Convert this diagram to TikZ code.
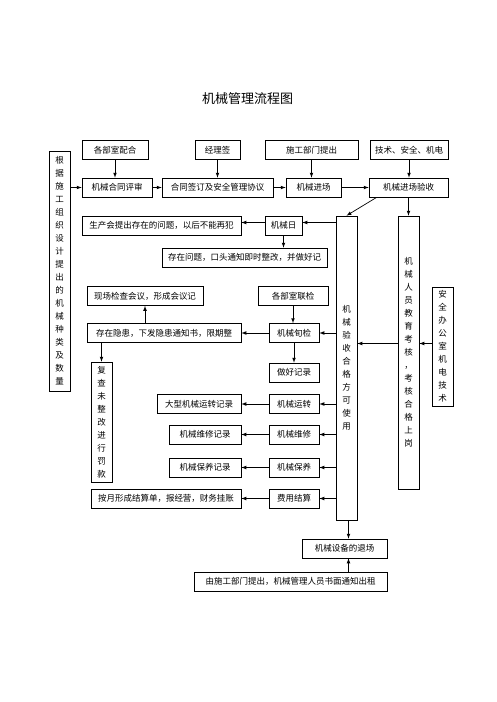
\documentclass[tikz,border=0pt]{standalone}
\usepackage{fontspec}
\setmainfont{Noto Sans CJK SC}

\begin{document}
\begin{tikzpicture}[x=1pt,y=-1pt,>=latex,
    box/.style={draw, line width=0.7pt, inner sep=0pt, minimum height=19pt, font=\fontsize{8.5}{10}\selectfont},
    vbox/.style={box, minimum width=21pt, text width=10pt, align=center, font=\fontsize{8.5}{13}\selectfont},
    flow/.style={->, line width=0.7pt}]
    \useasboundingbox (0,0) rectangle (496,702);
    \node (title) at (247.5,98.5) {\fontsize{13}{15}\selectfont 机械管理流程图};

    \node[box, minimum width=66pt] (peihe) at (115,150) {各部室配合};
    \node[box, minimum width=45pt] (jingli) at (217.5,150) {经理签};
    \node[box, minimum width=93pt] (tichu) at (311.5,150) {施工部门提出};
    \node[box, minimum width=78pt] (jishu) at (409,150) {技术、安全、机电};

    \node[vbox, minimum height=240pt] (genju) at (59.5,271) {根\\据\\施\\工\\组\\织\\设\\计\\提\\出\\的\\机\\械\\种\\类\\及\\数\\量};
    \node[box, minimum width=70pt] (pingshen) at (117,187.5) {机械合同评审};
    \node[box, minimum width=111pt] (xieyi) at (217.5,187.5) {合同签订及安全管理协议};
    \node[box, minimum width=55pt] (jinchang) at (313.5,187.5) {机械进场};
    \node[box, minimum width=79pt] (yanshou) at (408.5,187.5) {机械进场验收};

    \node[vbox, minimum height=304pt] (shiyong) at (346.5,368) {机\\械\\验\\收\\合\\格\\方\\可\\使\\用};
    \node[vbox, minimum height=273pt] (jiaoyu) at (408.5,352.5) {机\\械\\人\\员\\教\\育\\考\\核\\，\\考\\核\\合\\格\\上\\岗};
    \node[vbox, minimum height=119pt] (anquan) at (442.5,346.5) {安\\全\\办\\公\\室\\机\\电\\技\\术};

    \node[box, minimum width=37pt] (jixieri) at (283.5,225.5) {机械日};
    \node[box, minimum width=159pt] (shengchan) at (161.5,225.5) {生产会提出存在的问题，以后不能再犯};
    \node[box, minimum width=165pt] (wenti) at (244.5,257.5) {存在问题，口头通知即时整改，并做好记};

    \node[box, minimum width=116pt] (xianchang) at (145,296) {现场检查会议，形成会议记};
    \node[box, minimum width=70pt] (lianjian) at (293,296) {各部室联检};
    \node[box, minimum width=154pt] (yinhuan) at (164,333) {存在隐患，下发隐患通知书，限期整};
    \node[box, minimum width=50pt] (xunjian) at (294,333) {机械旬检};
    \node[vbox, minimum height=120pt] (fucha) at (101.5,422) {复\\查\\未\\整\\改\\进\\行\\罚\\款};
    \node[box, minimum width=50pt] (jilu) at (294,372.5) {做好记录};

    \node[box, minimum width=50pt] (yunzhuan) at (294,404) {机械运转};
    \node[box, minimum width=84pt] (yunzhuanjl) at (199,404) {大型机械运转记录};
    \node[box, minimum width=50pt] (weixiu) at (294,434.5) {机械维修};
    \node[box, minimum width=72pt] (weixiujl) at (205,434.5) {机械维修记录};
    \node[box, minimum width=50pt] (baoyang) at (294,467.5) {机械保养};
    \node[box, minimum width=72pt] (baoyangjl) at (205,467.5) {机械保养记录};
    \node[box, minimum width=50pt] (jiesuan) at (294,498.5) {费用结算};
    \node[box, minimum width=150pt] (guazhang) at (166,498.5) {按月形成结算单，报经营，财务挂账};

    \node[box, minimum width=85pt] (tuichang) at (344.5,548.5) {机械设备的退场};
    \node[box, minimum width=193pt] (chuzu) at (290.5,581.5) {由施工部门提出，机械管理人员书面通知出租};

    \draw[flow] (peihe) -- (peihe |- pingshen.north);
    \draw[flow] (jingli) -- (jingli |- xieyi.north);
    \draw[flow] (tichu) -- (tichu |- jinchang.north);
    \draw[flow] (jishu) -- (jishu |- yanshou.north);
    \draw[flow] (genju.east |- pingshen) -- (pingshen);
    \draw[flow] (pingshen) -- (xieyi);
    \draw[flow] (xieyi) -- (jinchang);
    \draw[flow] (jinchang) -- (yanshou);
    \draw[flow] ([xshift=8pt]yanshou.south west) -- (shiyong.north);
    \draw[flow] (yanshou) -- (jiaoyu);
    \draw[flow] ([yshift=3pt]anquan.west) -- ([yshift=3pt]anquan.west -| jiaoyu.east);
    \draw[flow] ([yshift=3pt]anquan.west -| jiaoyu.west) -- ([yshift=3pt]anquan.west -| shiyong.east);

    \draw[flow] ([yshift=3pt]shiyong.west |- jixieri) -- ([yshift=3pt]jixieri.east);
    \draw[flow] ([yshift=3pt]jixieri.west) -- ([yshift=3pt]jixieri.west -| shengchan.east);
    \draw[flow] (jixieri) -- (jixieri |- wenti.north);
    \draw[flow] (lianjian) -- (lianjian |- xunjian.north);
    \draw[flow] (shiyong.west |- xunjian) -- (xunjian);
    \draw[flow] (xunjian) -- (yinhuan);
    \draw[flow] (yinhuan.north -| xianchang) -- (xianchang);
    \draw[flow] (fucha |- yinhuan.south) -- (fucha);
    \draw[flow] (xunjian) -- (jilu);
    \foreach \a/\b in {yunzhuan/yunzhuanjl, weixiu/weixiujl, baoyang/baoyangjl, jiesuan/guazhang} {
        \draw[flow] (shiyong.west |- \a) -- (\a);
        \draw[flow] (\a) -- (\b);
    }
    \draw[flow] ([xshift=2pt]shiyong.south) -- ([xshift=2pt]shiyong.south |- tuichang.north);
    \draw[flow] ([xshift=2pt]shiyong.south |- chuzu.north) -- ([xshift=2pt]shiyong.south |- tuichang.south);
\end{tikzpicture}
\end{document}
